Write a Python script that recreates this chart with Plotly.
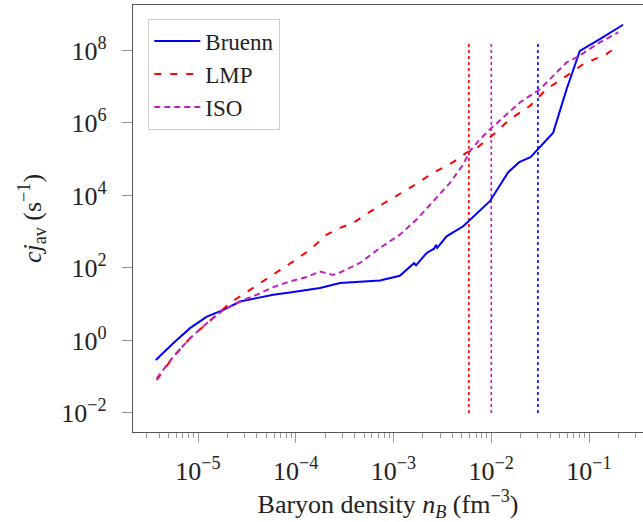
import plotly.graph_objects as go

# ---------------- data ----------------
bruenn_n = [3.70e-6, 5.58e-6, 8.28e-6, 1.23e-5, 1.82e-5, 2.69e-5, 3.98e-5, 5.89e-5, 8.73e-5,
            1.29e-4, 1.77e-4, 2.83e-4, 4.53e-4, 7.26e-4, 1.16e-3, 1.47e-3, 1.62e-3, 1.70e-3,
            2.18e-3, 2.60e-3, 2.72e-3, 2.80e-3, 3.49e-3,
            5.16e-3, 7.64e-3, 9.68e-3, 1.49e-2, 1.93e-2, 2.52e-2, 4.30e-2, 5.89e-2, 8.05e-2,
            0.129, 0.223]
bruenn_j = [0.289, 0.838, 2.18, 4.55, 6.98, 11.8, 14.7, 18.2, 21.0,
            24.9, 27.8, 38.2, 42.4, 45.1, 60.8, 110, 135, 118,
            258, 340, 430, 360, 743,
            1406, 3656, 6918, 4.39e4, 8.28e4, 1.14e5, 5.40e5, 8.49e6, 9.75e7,
            2.06e8, 5.11e8]

lmp_n = [3.78e-6, 5.58e-6, 8.28e-6, 1.23e-5, 2.12e-5, 3.40e-5, 5.89e-5, 9.42e-5, 1.40e-4,
         2.07e-4, 2.83e-4, 3.87e-4, 6.21e-4, 9.82e-4, 1.57e-3, 2.55e-3, 4.07e-3, 5.58e-3,
         6.79e-3, 1.01e-2, 1.55e-2, 2.48e-2, 3.67e-2, 5.89e-2, 8.71e-2, 0.151, 0.177]
lmp_j = [0.081, 0.35, 1.15, 3.0, 10.7, 24.9, 64.9, 151, 318,
         828, 1271, 1746, 4074, 8590, 1.80e4, 4.22e4, 8.28e4, 1.51e5,
         1.86e5, 4.35e5, 1.26e6, 2.93e6, 8.49e6, 1.98e7, 4.18e7, 7.91e7, 1.09e8]

iso_n = [3.78e-6, 5.58e-6, 8.28e-6, 1.23e-5, 1.82e-5, 2.69e-5, 3.98e-5, 5.89e-5, 8.73e-5,
         1.29e-4, 1.77e-4, 2.40e-4, 2.83e-4, 4.53e-4, 7.26e-4, 1.16e-3, 1.72e-3, 2.55e-3, 3.78e-3,
         5.16e-3, 6.04e-3, 7.64e-3, 9.68e-3, 1.96e-2, 3.14e-2, 5.89e-2, 7.45e-2, 0.129, 0.199]
iso_j = [0.090, 0.356, 1.15, 2.99, 6.98, 11.8, 18.2, 29.6, 42.4,
         56.0, 80.0, 64.0, 75.0, 137, 355, 828, 2153, 6918, 2.23e4,
         7.16e4, 1.67e5, 3.52e5, 6.65e5, 3.65e6, 8.49e6, 4.66e7, 6.40e7, 1.66e8, 3.15e8]

# vertical markers (transition densities)
marker_n = [5.9e-3, 1.0e-2, 3.0e-2]
marker_colors = ["#ff0000", "#c020c0", "#0000ff"]
marker_j_span = [1e-2, 1.8e8]

x_tickvals = [1e-5, 1e-4, 1e-3, 1e-2, 1e-1]
x_ticktext = ["10<sup>−5</sup>", "10<sup>−4</sup>", "10<sup>−3</sup>", "10<sup>−2</sup>", "10<sup>−1</sup>"]
y_tickvals = [1e-2, 1e0, 1e2, 1e4, 1e6, 1e8]
y_ticktext = ["10<sup>−2</sup>", "10<sup>0</sup>", "10<sup>2</sup>", "10<sup>4</sup>", "10<sup>6</sup>", "10<sup>8</sup>"]

FONT = "Liberation Serif, DejaVu Serif, serif"
FS = 26

fig = go.Figure()

for xv, col in zip(marker_n, marker_colors):
    fig.add_trace(go.Scatter(x=[xv, xv], y=marker_j_span, mode="lines",
                             line=dict(color=col, width=1.6, dash="dot"),
                             showlegend=False, hoverinfo="skip"))

fig.add_trace(go.Scatter(x=bruenn_n, y=bruenn_j, mode="lines", name="Bruenn",
                         line=dict(color="#0000ff", width=2)))
fig.add_trace(go.Scatter(x=lmp_n, y=lmp_j, mode="lines", name="LMP",
                         line=dict(color="#ff0000", width=2, dash="7px,9px")))
fig.add_trace(go.Scatter(x=iso_n, y=iso_j, mode="lines", name="ISO",
                         line=dict(color="#c020c0", width=2, dash="6px,4px")))

minor_x = []
for dec in [1e-6, 1e-5, 1e-4, 1e-3, 1e-2, 1e-1]:
    for k in range(2, 10):
        minor_x.append(k * dec)

fig.update_layout(
    width=643, height=522,
    margin=dict(l=133, r=0, t=5, b=90, autoexpand=False),
    paper_bgcolor="white", plot_bgcolor="white",
    font=dict(family=FONT, size=FS, color="#222"),
    showlegend=True,
    legend=dict(x=0.03, y=0.968, xanchor="left", yanchor="top",
                bordercolor="#cccccc", borderwidth=1, bgcolor="white",
                font=dict(size=23, family=FONT), tracegroupgap=0,
                itemwidth=46),
)
fig.update_xaxes(
    type="log", range=[-5.665, -0.448],
    showgrid=False, zeroline=False,
    showline=True, linecolor="#555", linewidth=1.2, mirror=True,
    ticks="outside", ticklen=10, tickcolor="#999", tickwidth=1,
    tickvals=x_tickvals, ticktext=x_ticktext, ticklabelstandoff=6,
    minor=dict(tickvals=minor_x, ticks="outside", ticklen=5, tickcolor="#999", tickwidth=1, showgrid=False),
    tickfont=dict(size=FS, family=FONT),
    title=dict(text="Baryon density <i>n<sub>B</sub></i> (fm<sup>−3</sup>)", font=dict(size=FS, family=FONT), standoff=2),
)
fig.update_yaxes(
    type="log", range=[-2.526, 9.253],
    showgrid=False, zeroline=False,
    showline=True, linecolor="#555", linewidth=1.2, mirror=True,
    ticks="outside", ticklen=10, tickcolor="#999", tickwidth=1,
    tickvals=y_tickvals, ticktext=y_ticktext, ticklabelstandoff=10,
    tickfont=dict(size=FS, family=FONT),
    title=dict(text="<i>cj</i><sub>av</sub> (s<sup>−1</sup>)", font=dict(size=FS, family=FONT), standoff=12),
)

fig.write_html("out.html", config={"displayModeBar": False},
               post_script="document.body.style.margin='0px';document.body.style.overflow='hidden';")
